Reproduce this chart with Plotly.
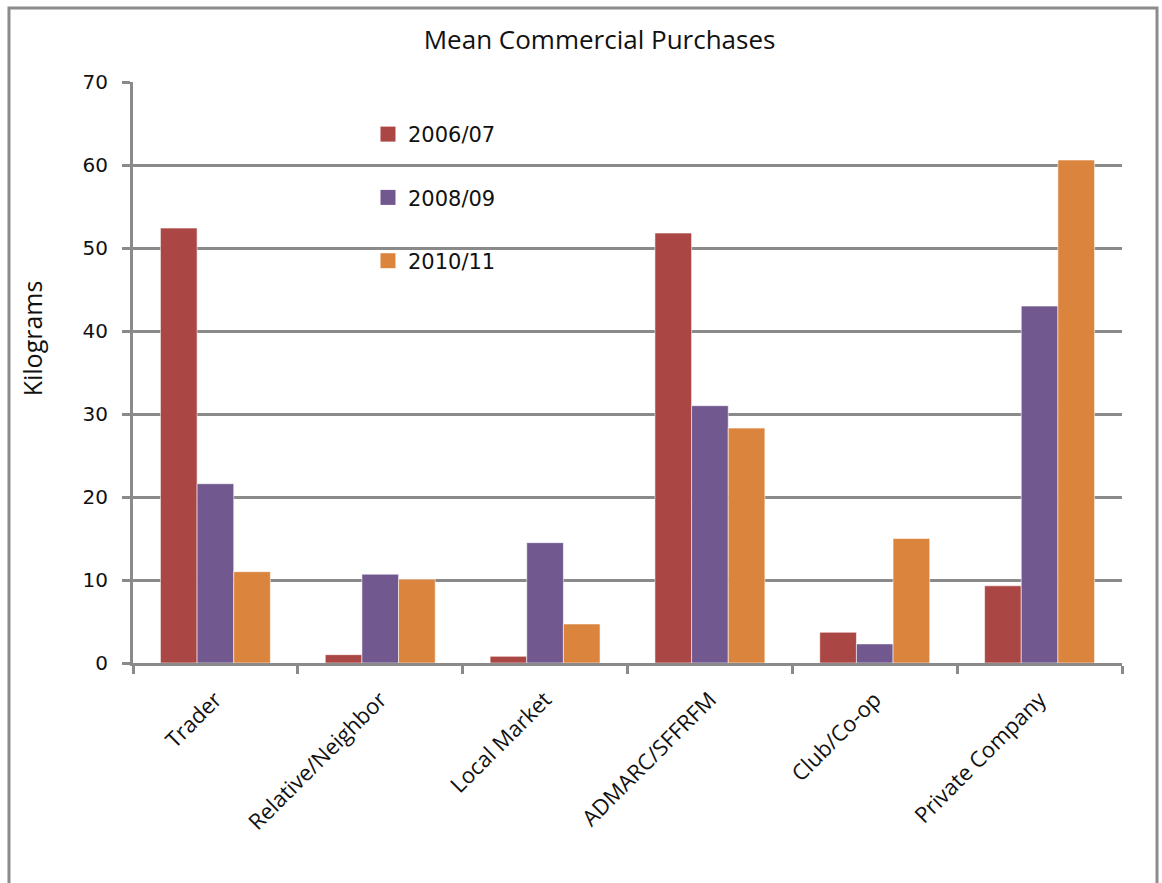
import plotly.graph_objects as go

categories = ["Trader", "Relative/Neighbor", "Local Market", "ADMARC/SFFRFM", "Club/Co-op", "Private Company"]
series_names = ["2006/07", "2008/09", "2010/11"]
values_2006 = [52.4, 1.0, 0.8, 51.8, 3.7, 9.3]
values_2008 = [21.6, 10.7, 14.5, 31.0, 2.3, 43.0]
values_2010 = [11.0, 10.1, 4.7, 28.3, 15.0, 60.6]
colors = ["#AA4643", "#71588F", "#DB843D"]

GRID = "#8A8A8A"

fig = go.Figure()
for i, (name, vals) in enumerate(zip(series_names, [values_2006, values_2008, values_2010])):
    fig.add_trace(go.Bar(
        x=categories, y=vals, name=name, showlegend=False,
        marker=dict(color=colors[i], line=dict(color="rgba(255,255,255,0.55)", width=1)),
        legendgroup=name,
    ))
    # square legend key
    fig.add_trace(go.Scatter(
        x=[None], y=[None], mode="markers", name=name, legendgroup=name,
        marker=dict(symbol="square", size=15, color=colors[i]),
    ))

fig.update_layout(
    width=1162, height=883,
    margin=dict(l=133, r=40, t=82, b=220),
    paper_bgcolor="white", plot_bgcolor="white",
    barmode="group", bargap=0.333, bargroupgap=0,
    title=dict(text="Mean Commercial Purchases", x=0.516, xanchor="center", y=0.955, yanchor="middle",
               font=dict(family="Open Sans", size=26, color="#111")),
    font=dict(family="Open Sans", color="#111"),
    showlegend=True,
    legend=dict(x=0.2376, y=0.945, xanchor="left", yanchor="top",
                bgcolor="rgba(0,0,0,0)", tracegroupgap=33,
                font=dict(family="DejaVu Sans", size=21, color="#111"),
                itemwidth=30),
    xaxis=dict(showline=True, linecolor=GRID, linewidth=3, ticks="outside", tickson="boundaries",
               ticklen=8, tickwidth=3, tickcolor=GRID, tickangle=-45, showgrid=False,
               ticklabelstandoff=12,
               tickfont=dict(family="Open Sans", size=22, color="#111")),
    yaxis=dict(range=[0, 70], dtick=10, showline=True, linecolor=GRID, linewidth=3,
               ticks="outside", ticklen=8, tickwidth=3, tickcolor=GRID,
               showgrid=True, gridcolor=GRID, gridwidth=3, zeroline=False,
               ticklabelstandoff=10,
               tickfont=dict(family="DejaVu Sans", size=20, color="#111")),
)

fig.add_annotation(text="Kilograms", xref="paper", yref="paper", x=-0.102, y=0.559,
                   textangle=-90, showarrow=False, xanchor="center", yanchor="middle",
                   font=dict(family="Open Sans", size=25, color="#111"))

# outer chart frame
fig.add_shape(type="rect", xref="paper", yref="paper",
              x0=-0.1254, x1=1.0354, y0=-0.4, y1=1.1274,
              line=dict(color="#8C8C8C", width=3), fillcolor="rgba(0,0,0,0)", layer="below")

fig.write_html("out.html")
